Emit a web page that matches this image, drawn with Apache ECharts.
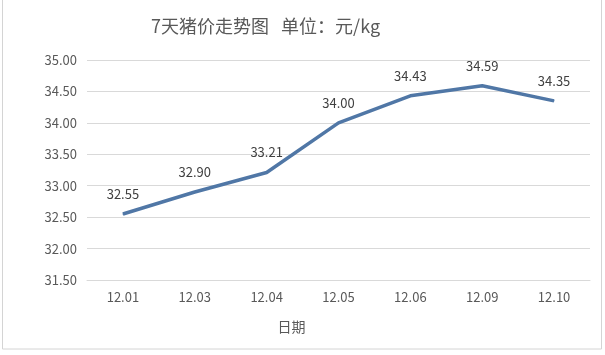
<!DOCTYPE html>
<html>
<head>
<meta charset="utf-8">
<script src="https://cdn.jsdelivr.net/npm/echarts@6/dist/echarts.min.js"></script>
<style>
  html, body { margin: 0; padding: 0; background: #fff; }
  #chart { width: 605px; height: 355px; }
</style>
</head>
<body>
<div id="chart"></div>
<script>
// 日期
var dates = ['12.01', '12.03', '12.04', '12.05', '12.06', '12.09', '12.10'];
// 猪价 元/kg
var prices = [32.55, 32.90, 33.21, 34.00, 34.43, 34.59, 34.35];

var font = '"Noto Sans CJK SC", "Open Sans", sans-serif';
var chart = echarts.init(document.getElementById('chart'));
chart.setOption({
    animation: false,
    textStyle: { fontFamily: font },
    graphic: [{
        type: 'rect',
        shape: { x: 2.5, y: -2, width: 599, height: 351 },
        style: { fill: 'none', stroke: '#d4d4d4', lineWidth: 1 },
        z: -1
    }],
    title: {
        text: '7天猪价走势图   单位：元/kg',
        left: 146,
        top: 12,
        textStyle: { color: '#595959', fontSize: 18, fontWeight: 'normal', fontFamily: font }
    },
    grid: { left: 87, right: 15, top: 60, bottom: 75 },
    xAxis: {
        type: 'category',
        data: dates,
        boundaryGap: true,
        name: '日期',
        nameLocation: 'middle',
        nameGap: 40,
        nameTextStyle: { color: '#595959', fontSize: 14, padding: [0, 94, 0, 0] },
        axisLine: { lineStyle: { color: '#d9d9d9' } },
        axisTick: { show: false },
        axisLabel: { color: '#595959', fontSize: 13, margin: 11 }
    },
    yAxis: {
        type: 'value',
        min: 31.5,
        max: 35,
        interval: 0.5,
        axisLine: { show: false },
        axisTick: { show: false },
        axisLabel: {
            color: '#595959', fontSize: 13, margin: 10,
            formatter: function (v) { return v.toFixed(2); }
        },
        splitLine: { lineStyle: { color: '#d9d9d9' } }
    },
    series: [{
        type: 'line',
        data: prices,
        symbol: 'circle',
        symbolSize: 1,
        itemStyle: { color: '#5077a6' },
        lineStyle: { color: '#5077a6', width: 3.5 },
        label: {
            show: true,
            position: 'top',
            distance: 13,
            color: '#404040',
            fontSize: 13,
            formatter: function (p) { return p.value.toFixed(2); }
        }
    }]
});
</script>
</body>
</html>
